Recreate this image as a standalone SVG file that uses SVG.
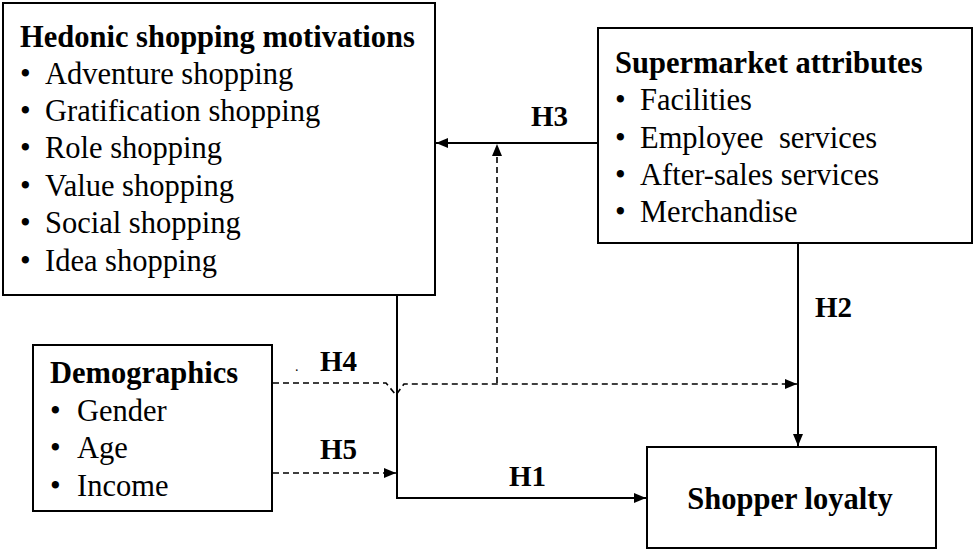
<svg xmlns="http://www.w3.org/2000/svg" width="974" height="550" viewBox="0 0 974 550">
<defs>
<style>
.box{fill:#fff;stroke:#000;stroke-width:2}
.t{font-family:"Liberation Serif","Times New Roman",serif;font-size:30.5px;fill:#000}
.b{font-weight:bold}
.lbl{font-family:"Liberation Serif","Times New Roman",serif;font-size:29px;font-weight:bold;fill:#000}
.ln{fill:none;stroke:#000;stroke-width:2}
.dl{fill:none;stroke:#000;stroke-width:1.6;stroke-dasharray:6 4}
</style>
<marker id="ah" viewBox="0 0 12 10" refX="12" refY="5" markerWidth="12" markerHeight="10" markerUnits="userSpaceOnUse" orient="auto">
<path d="M0,0 L12,5 L0,10 Z" fill="#000"/>
</marker>
</defs>
<rect width="974" height="550" fill="#fff"/>
<g id="connectors">
<path class="ln" d="M598,143 H436" marker-end="url(#ah)"/>
<path class="dl" d="M497,383 V144" marker-end="url(#ah)"/>
<path class="ln" d="M798,243 V446" marker-end="url(#ah)"/>
<path class="ln" d="M397,295 V498 H646" marker-end="url(#ah)"/>
<path class="dl" d="M273,473 H396" marker-end="url(#ah)"/>
<path class="dl" d="M273,383 H386 L396,395 L404,384 H797" marker-end="url(#ah)"/>
<text class="lbl" x="531" y="126">H3</text>
<text class="lbl" x="815" y="317">H2</text>
<text class="lbl" x="320" y="371">H4</text>
<text class="t" x="295" y="371" style="font-size:14px">.</text>
<text class="lbl" x="320" y="459">H5</text>
<text class="lbl" x="509" y="486">H1</text>
</g>
<g id="hedonic">
<rect class="box" x="3" y="3" width="432" height="292"/>
<text class="t b" x="20" y="47">Hedonic shopping motivations</text>
<text class="t" x="20" y="84">•</text><text class="t" x="45" y="84">Adventure shopping</text>
<text class="t" x="20" y="121">•</text><text class="t" x="45" y="121">Gratification shopping</text>
<text class="t" x="20" y="158">•</text><text class="t" x="45" y="158">Role shopping</text>
<text class="t" x="20" y="196">•</text><text class="t" x="45" y="196">Value shopping</text>
<text class="t" x="20" y="233">•</text><text class="t" x="45" y="233">Social shopping</text>
<text class="t" x="20" y="271">•</text><text class="t" x="45" y="271">Idea shopping</text>
</g>
<g id="supermarket">
<rect class="box" x="598" y="28" width="374" height="215"/>
<text class="t b" x="615" y="73">Supermarket attributes</text>
<text class="t" x="615" y="110">•</text><text class="t" x="640" y="110">Facilities</text>
<text class="t" x="615" y="148">•</text><text class="t" x="640" y="148" xml:space="preserve">Employee  services</text>
<text class="t" x="615" y="185">•</text><text class="t" x="640" y="185">After-sales services</text>
<text class="t" x="615" y="222">•</text><text class="t" x="640" y="222">Merchandise</text>
</g>
<g id="demographics">
<rect class="box" x="33" y="345" width="239" height="166"/>
<text class="t b" x="50" y="383">Demographics</text>
<text class="t" x="50" y="421">•</text><text class="t" x="77" y="421">Gender</text>
<text class="t" x="50" y="458">•</text><text class="t" x="77" y="458">Age</text>
<text class="t" x="50" y="496">•</text><text class="t" x="77" y="496">Income</text>
</g>
<g id="loyalty">
<rect class="box" x="647" y="447" width="289" height="101"/>
<text class="t b" x="790" y="509" text-anchor="middle">Shopper loyalty</text>
</g>
</svg>
